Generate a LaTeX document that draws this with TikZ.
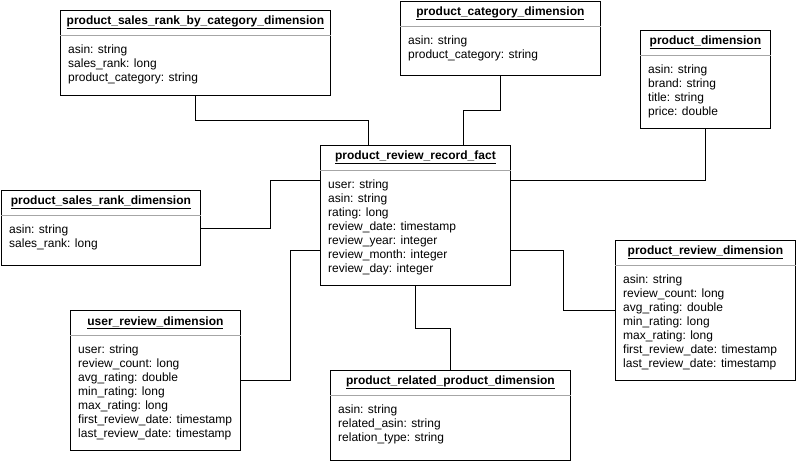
\documentclass[tikz,border=0pt]{standalone}
\usepackage{fontspec}
\setmainfont{Liberation Sans}
\usetikzlibrary{calc}
\newcommand\mkbox[7]{%
 \node[umlbox, minimum width=#4pt, minimum height=#5pt] (#1) at (#2,#3) {};
 \draw[sepline] ($(#1.north west)+(0,25)$) -- ($(#1.north east)+(0,25)$);
 \node[ttl] (#1-t) at ($(#1.north)+(0,12.5)$) {\underline{#6}};
 \node[attr] (#1-a) at ($(#1.north west)+(8,34.5)$) {#7};
}
\begin{document}
\begin{tikzpicture}[x=1pt,y=-1pt,
  umlbox/.style={draw, line width=0.8pt, anchor=north west, inner sep=0pt, fill=white},
  ttl/.style={font=\fontsize{12}{14}\selectfont\bfseries, anchor=center, inner sep=0pt},
  attr/.style={anchor=north west, align=left, inner sep=0pt, font=\fontsize{12}{14}\selectfont},
  sepline/.style={draw=black!35, line width=0.9pt},
  conn/.style={draw, line width=0.8pt}]
\useasboundingbox[fill=white] (0,0) rectangle (796,461);

\mkbox{b1}{60}{10}{270}{85}{product\_sales\_rank\_by\_category\_dimension}{asin: string\\sales\_rank: long\\product\_category: string}
\mkbox{b2}{400}{1}{200}{74}{product\_category\_dimension}{asin: string\\product\_category: string}
\mkbox{b3}{640}{30}{130}{98}{product\_dimension}{asin: string\\brand: string\\title: string\\price: double}
\mkbox{fact}{320}{145}{190}{140}{product\_review\_record\_fact}{user: string\\asin: string\\rating: long\\review\_date: timestamp\\review\_year: integer\\review\_month: integer\\review\_day: integer}
\mkbox{b5}{1}{190}{199}{75}{product\_sales\_rank\_dimension}{asin: string\\sales\_rank: long}
\mkbox{b6}{615}{240}{180}{140}{product\_review\_dimension}{asin: string\\review\_count: long\\avg\_rating: double\\min\_rating: long\\max\_rating: long\\first\_review\_date: timestamp\\last\_review\_date: timestamp}
\mkbox{b7}{70}{310}{170}{140}{user\_review\_dimension}{user: string\\review\_count: long\\avg\_rating: double\\min\_rating: long\\max\_rating: long\\first\_review\_date: timestamp\\last\_review\_date: timestamp}
\mkbox{b8}{330}{370}{240}{90}{product\_related\_product\_dimension}{asin: string\\related\_asin: string\\relation\_type: string}

\draw[conn] ($(b1.south west)+(135,0)$) -- ++(0,25) -| ($(fact.north west)+(48,0)$);
\draw[conn] (b2.south) -- ++(0,35) -| ($(fact.north west)+(143,0)$);
\draw[conn] (b3.south) |- ($(fact.north east)+(0,35)$);
\draw[conn] ($(b5.north east)+(0,38)$) -- ++(70,0) |- ($(fact.north west)+(0,35)$);
\draw[conn] ($(fact.north west)+(0,105)$) -- ++(-30,0) |- (b7.east);
\draw[conn] ($(fact.north east)+(0,105)$) -- ++(53,0) |- (b6.west);
\draw[conn] (fact.south) -- ++(0,43) -| (b8.north);
\end{tikzpicture}
\end{document}
